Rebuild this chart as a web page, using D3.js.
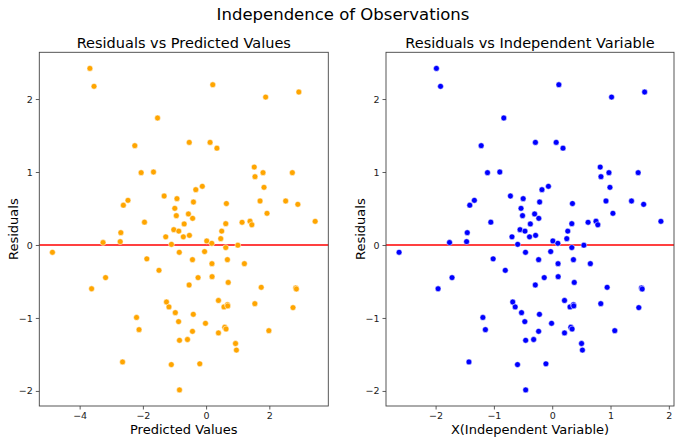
<!DOCTYPE html>
<html><head><meta charset="utf-8">
<script src="https://cdn.jsdelivr.net/npm/d3@7"></script>
<style>body{margin:0;background:#fff}svg{display:block;font-family:"DejaVu Sans",sans-serif}</style>
</head><body><svg id="c" width="680" height="441"></svg>
<script>
const xIndependent = [-1.986,-1.915,0.114,1.585,1.018,-0.830,-1.218,-0.288,0.068,0.185,0.823,-1.110,-0.899,0.836,0.973,1.474,0.990,-0.065,-0.176,-0.717,-0.498,-0.216,0.347,0.922,1.360,1.568,-1.335,-1.414,-0.535,1.041,-0.302,-0.509,-0.230,-1.053,-0.375,0.336,0.615,0.751,0.782,1.864,-0.552,-0.467,0.267,-1.457,-0.690,-0.389,-0.285,0.250,0.011,0.097,-1.761,-1.468,-0.592,0.543,0.336,-2.626,-0.458,-0.026,-1.013,-0.233,0.364,0.100,0.654,-0.805,-1.718,-0.137,0.102,0.378,-0.290,-1.957,0.942,1.531,1.543,-0.677,-0.635,-0.526,-0.219,0.211,0.305,0.365,-1.189,-1.146,-0.470,-0.011,-0.233,-0.318,0.211,0.319,0.341,1.073,-0.455,0.503,0.518,-1.428,-0.595,-0.108,-0.455,0.833,1.485,0.370];
const predicted = [-3.676,-3.545,0.211,2.934,1.884,-1.536,-2.255,-0.533,0.126,0.342,1.523,-2.055,-1.664,1.547,1.801,2.728,1.832,-0.120,-0.326,-1.327,-0.922,-0.400,0.642,1.707,2.517,2.902,-2.471,-2.617,-0.990,1.927,-0.559,-0.942,-0.426,-1.949,-0.694,0.622,1.138,1.390,1.447,3.450,-1.022,-0.864,0.494,-2.697,-1.277,-0.720,-0.528,0.463,0.020,0.180,-3.260,-2.717,-1.096,1.005,0.622,-4.861,-0.848,-0.048,-1.875,-0.431,0.674,0.185,1.211,-1.490,-3.180,-0.254,0.189,0.700,-0.537,-3.622,1.744,2.834,2.856,-1.253,-1.175,-0.974,-0.405,0.391,0.565,0.676,-2.201,-2.121,-0.870,-0.020,-0.431,-0.589,0.391,0.590,0.631,1.986,-0.842,0.931,0.959,-2.643,-1.101,-0.200,-0.842,1.542,2.749,0.685];
const residuals = [2.420,2.174,2.196,2.096,2.027,1.740,1.361,1.406,1.406,1.327,1.068,0.991,1.000,0.936,0.991,0.991,0.790,0.804,0.758,0.671,0.635,0.589,0.568,0.603,0.603,0.557,0.612,0.545,0.502,0.434,0.425,0.402,0.365,0.313,0.288,0.292,0.311,0.326,0.277,0.324,0.210,0.190,0.190,0.169,0.112,0.112,0.132,0.087,0.055,0.023,0.034,0.046,0.009,-0.003,-0.035,-0.100,-0.100,-0.090,-0.190,-0.201,-0.201,-0.256,-0.256,-0.347,-0.447,-0.447,-0.434,-0.513,-0.548,-0.600,-0.580,-0.589,-0.603,-0.781,-0.849,-0.927,-0.950,-0.760,-0.849,-0.818,-0.993,-1.160,-1.050,-1.073,-1.183,-1.295,-1.205,-1.127,-1.151,-1.174,-1.306,-1.350,-1.440,-1.603,-1.639,-1.628,-1.986,-0.804,-0.858,-0.835];
const leftXTicks = [-4,-2,0,2];
const rightXTicks = [-2,-1,0,1,2];
const yTicks = [-2,-1,0,1,2];

const svg = d3.select("#c");
const plotTop = 52.3, plotBottom = 406;
const fmt = d => d < 0 ? "\u2212" + Math.abs(d) : String(d);

svg.append("text").attr("x",343).attr("y",20).attr("text-anchor","middle")
  .attr("font-size",16.5).attr("fill","#000").text("Independence of Observations");

function panel(x0, x1, xs, ticks, color, title, xlabel) {
  const ext = d3.extent(xs), m = (ext[1]-ext[0])*0.05;
  const x = d3.scaleLinear().domain([ext[0]-m, ext[1]+m]).range([x0, x1]);
  const re = d3.extent(residuals), rm = (re[1]-re[0])*0.05;
  const y = d3.scaleLinear().domain([re[0]-rm, re[1]+rm]).range([plotBottom, plotTop]);
  const g = svg.append("g");
  const xa = g.append("g").attr("transform",`translate(0,${plotBottom})`)
    .call(d3.axisBottom(x).tickValues(ticks).tickFormat(fmt).tickSize(3.5).tickPadding(3));
  const ya = g.append("g").attr("transform",`translate(${x0},0)`)
    .call(d3.axisLeft(y).tickValues(yTicks).tickFormat(fmt).tickSize(3.5).tickPadding(3));
  [xa, ya].forEach(a => {
    a.select(".domain").remove();
    a.selectAll("line").attr("stroke","#333").attr("stroke-width",0.8);
    a.selectAll("text").attr("font-size",9.5).attr("fill","#222").attr("font-family","DejaVu Sans");
  });
  g.append("line").attr("x1",x0).attr("x2",x1).attr("y1",y(0)).attr("y2",y(0))
    .attr("stroke","red").attr("stroke-width",1.4);
  g.selectAll("circle").data(xs).join("circle")
    .attr("cx",d=>x(d)).attr("cy",(d,i)=>y(residuals[i])).attr("r",2.9)
    .attr("fill",color).attr("stroke","#fff").attr("stroke-width",0.5);
  g.append("rect").attr("x",x0).attr("y",plotTop).attr("width",x1-x0).attr("height",plotBottom-plotTop)
    .attr("fill","none").attr("stroke","#444").attr("stroke-width",0.9);
  const cx = (x0+x1)/2;
  g.append("text").attr("x",cx).attr("y",48).attr("text-anchor","middle")
    .attr("font-size",14.5).attr("fill","#000").text(title);
  g.append("text").attr("x",cx).attr("y",434).attr("text-anchor","middle")
    .attr("font-size",13).attr("fill","#000").text(xlabel);
  g.append("text").attr("transform",`translate(${x0-21},${(plotTop+plotBottom)/2}) rotate(-90)`)
    .attr("text-anchor","middle").attr("font-size",13).attr("fill","#000").text("Residuals");
}
panel(39.3, 328.3, predicted, leftXTicks, "#FFA500", "Residuals vs Predicted Values", "Predicted Values");
panel(386, 674, xIndependent, rightXTicks, "#0000FF", "Residuals vs Independent Variable", "X(Independent Variable)");
</script></body></html>
